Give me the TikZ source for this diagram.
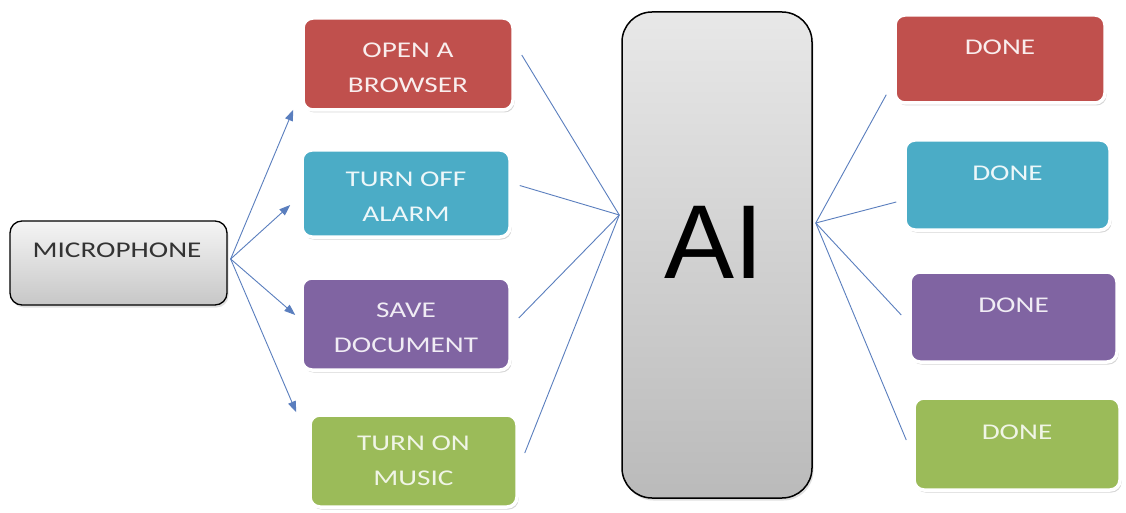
\documentclass[tikz,border=0pt]{standalone}
\usepackage{fontspec}
\setmainfont{Carlito}
\newfontfamily\boxfont[FakeStretch=1.3]{Carlito}
\newfontfamily\aifont{Liberation Sans}
\usetikzlibrary{arrows.meta,calc,shadows}
\definecolor{cred}{HTML}{C0504D}
\definecolor{cteal}{HTML}{4BACC6}
\definecolor{cpurple}{HTML}{8064A2}
\definecolor{cgreen}{HTML}{9BBB59}
\definecolor{lineblue}{HTML}{5A7EBE}
\begin{document}
\begin{tikzpicture}[x=1pt,y=-1pt,
  cbox/.style={rounded corners=10pt, draw=white, line width=3.5pt, inner sep=0pt,
     general shadow={fill=black!45, opacity=0.35, shadow xshift=1.5pt, shadow yshift=-2.5pt}},
  btext/.style={font=\boxfont\fontsize{22.5}{35}\selectfont, align=center, inner sep=0pt},
  conn/.style={draw=lineblue, line width=0.9pt},
  arr/.style={conn, -{Triangle[length=11pt,width=8pt]}}]
\useasboundingbox[fill=white] (0,0) rectangle (1126,513);

% microphone
\node[rounded corners=12pt, draw=black, line width=1.3pt, top color=white!96!black, bottom color=black!22,
  minimum width=217pt, minimum height=84pt, inner sep=0pt,
  general shadow={fill=black!40, opacity=0.3, shadow xshift=1.5pt, shadow yshift=-2.5pt}] (mic) at (118.5,263) {};
\node[btext, text=black!80] (mict) at (117,250) {MICROPHONE};

% left coloured boxes
\node[cbox, fill=cred, minimum width=210pt, minimum height=92pt] (b1) at (408,64) {};
\node[btext, text=white!90!cred] (b1t) at (408,67.5) {OPEN A\\BROWSER};
\node[cbox, fill=cteal, minimum width=208pt, minimum height=87pt] (b2) at (406,193.5) {};
\node[btext, text=white!90!cteal] (b2t) at (406,196.5) {TURN OFF\\ALARM};
\node[cbox, fill=cpurple, minimum width=208pt, minimum height=92pt] (b3) at (406,324) {};
\node[btext, text=white!88!cpurple] (b3t) at (406,327.5) {SAVE\\DOCUMENT};
\node[cbox, fill=cgreen, minimum width=207pt, minimum height=92pt] (b4) at (413.5,461) {};
\node[btext, text=white!85!cgreen] (b4t) at (413.5,460.5) {TURN ON\\MUSIC};

% AI box
\node[rounded corners=30pt, draw=black, line width=1.5pt, top color=black!9, bottom color=black!27,
  minimum width=190pt, minimum height=486pt, inner sep=0pt,
  general shadow={fill=black!40, opacity=0.3, shadow xshift=1.5pt, shadow yshift=-2.5pt}] (ai) at (717,255) {};
\node[font=\aifont\fontsize{105}{110}\selectfont, inner sep=0pt] (ait) at (714,242) {AI};

% right DONE boxes
\node[cbox, fill=cred, minimum width=210pt, minimum height=88pt] (d1) at (1000,59) {};
\node[btext, text=white!90!cred] (d1t) at (1000,47) {DONE};
\node[cbox, fill=cteal, minimum width=205pt, minimum height=90pt] (d2) at (1007.5,185) {};
\node[btext, text=white!90!cteal] (d2t) at (1007.5,173) {DONE};
\node[cbox, fill=cpurple, minimum width=207pt, minimum height=90pt] (d3) at (1013.5,317) {};
\node[btext, text=white!88!cpurple] (d3t) at (1013.5,305) {DONE};
\node[cbox, fill=cgreen, minimum width=206pt, minimum height=92pt] (d4) at (1017,444) {};
\node[btext, text=white!85!cgreen] (d4t) at (1017,432) {DONE};

% connectors
\coordinate (mo) at ($(mic.east)+(3,-4)$);
\coordinate (aiin) at ($(ai.west)+(-2,-40)$);
\coordinate (aiout) at ($(ai.east)+(3,-32)$);

\draw[arr] (mo) -- ($(b1.south west)+(-8,-2)$);
\draw[arr] (mo) -- ($(b2.west)+(-10,11.5)$);
\draw[arr] (mo) -- ($(b3.west)+(-5,-9)$);
\draw[arr] (mo) -- ($(b4.north west)+(-12,-1)$);

\draw[conn] ($(b1.east)+(7,-9)$) -- (aiin);
\draw[conn] ($(b2.east)+(8,-8)$) -- (aiin);
\draw[conn] ($(b3.east)+(7,-6)$) -- (aiin);
\draw[conn] ($(b4.east)+(6,-8)$) -- (aiin);

\draw[conn] (aiout) -- ($(d1.south west)+(-7,-10)$);
\draw[conn] (aiout) -- ($(d2.west)+(-7,17)$);
\draw[conn] (aiout) -- ($(d3.west)+(-7,-2)$);
\draw[conn] (aiout) -- ($(d4.west)+(-6,-4)$);
\end{tikzpicture}
\end{document}
